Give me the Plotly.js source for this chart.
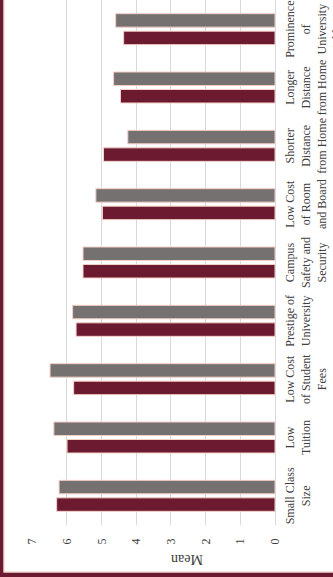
<!DOCTYPE html>
<html>
<head>
<meta charset="utf-8">
<script src="https://cdn.plot.ly/plotly-3.0.1.min.js"></script>
<style>
html, body { margin: 0; padding: 0; width: 333px; height: 577px; overflow: hidden; background: #ffffff; }
#chart { position: absolute; left: 0; top: 0; width: 577px; height: 333px;
  transform-origin: 0 0; transform: translateY(577px) rotate(-90deg); }
</style>
</head>
<body>
<div id="chart"></div>
<script>
var categories = [
  "Small Class<br>Size",
  "Low<br>Tuition",
  "Low Cost<br>of Student<br>Fees",
  "Prestige of<br>University",
  "Campus<br>Safety and<br>Security",
  "Low Cost<br>of Room<br>and Board",
  "Shorter<br>Distance<br>from Home",
  "Longer<br>Distance<br>from Home",
  "Prominence<br>of<br>University<br>Athletics"
];
var maroonValues = [6.29, 5.99, 5.80, 5.73, 5.53, 4.97, 4.94, 4.45, 4.36];
var grayValues   = [6.22, 6.37, 6.48, 5.83, 5.53, 5.16, 4.24, 4.65, 4.59];
var valueTicks = [0, 1, 2, 3, 4, 5, 6, 7];

var ML = 52, MT = 32, W = 577, H = 333, MB = 58;
var PW = W - ML, PH = H - MT - MB;
function px(u) { return (u - ML) / PW; }
function py(v) { return (H - MB - v) / PH; }

var maroon = '#6b1a30';
var traces = [
  { type: 'bar', x: categories, y: maroonValues, name: 'A',
    marker: { color: maroon, line: { color: '#f3cfc6', width: 1 } } },
  { type: 'bar', x: categories, y: grayValues, name: 'B',
    marker: { color: '#767171', line: { color: '#f3cfc6', width: 1 } } }
];

var layout = {
  width: W, height: H,
  margin: { l: ML, r: 0, t: MT, b: MB, pad: 0 },
  paper_bgcolor: '#ffffff', plot_bgcolor: '#ffffff',
  barmode: 'group', bargap: 0.4, bargroupgap: 0.23,
  showlegend: false,
  font: { family: 'Liberation Serif, Times New Roman, serif', size: 12, color: '#404040' },
  xaxis: {
    type: 'category', range: [-0.5, 8.5], fixedrange: true,
    showgrid: false, zeroline: false, showline: false,
    ticks: 'outside', ticklen: 4, tickcolor: 'rgba(0,0,0,0)',
    tickangle: 0, automargin: false,
    tickfont: { family: 'Liberation Serif, Times New Roman, serif', size: 12, color: '#404040' }
  },
  yaxis: {
    range: [0, 7], tickvals: valueTicks, ticktext: valueTicks.map(String),
    showgrid: true, gridcolor: '#d9d9d9', gridwidth: 1,
    zeroline: true, zerolinecolor: '#d9d9d9', zerolinewidth: 1,
    showline: false, ticks: 'outside', ticklen: 10, tickcolor: 'rgba(0,0,0,0)',
    tickangle: 0, automargin: false, fixedrange: true,
    tickfont: { family: 'Liberation Serif, Times New Roman, serif', size: 12, color: '#404040' }
  },
  annotations: [
    { text: 'Mean', xref: 'paper', yref: 'paper', x: px(17), y: py(187),
      xanchor: 'center', yanchor: 'middle', textangle: -90, showarrow: false,
      font: { family: 'Liberation Serif, Times New Roman, serif', size: 14, color: '#404040' } }
  ],
  shapes: [
    { type: 'rect', xref: 'paper', yref: 'paper', x0: px(0), x1: px(W), y0: py(3.5), y1: py(0),
      fillcolor: maroon, line: { width: 0 }, layer: 'above' },
    { type: 'rect', xref: 'paper', yref: 'paper', x0: px(0), x1: px(4.5), y0: py(H), y1: py(0),
      fillcolor: maroon, line: { width: 0 }, layer: 'above' },
    { type: 'line', xref: 'paper', yref: 'paper', x0: px(4.5), x1: px(W), y0: py(4), y1: py(4),
      line: { color: '#f0c8c0', width: 1 }, layer: 'above' },
    { type: 'line', xref: 'paper', yref: 'paper', x0: px(5), x1: px(5), y0: py(H), y1: py(4),
      line: { color: '#f0c8c0', width: 1 }, layer: 'above' }
  ]
};

Plotly.newPlot('chart', traces, layout, { staticPlot: true, displayModeBar: false });
</script>
</body>
</html>
